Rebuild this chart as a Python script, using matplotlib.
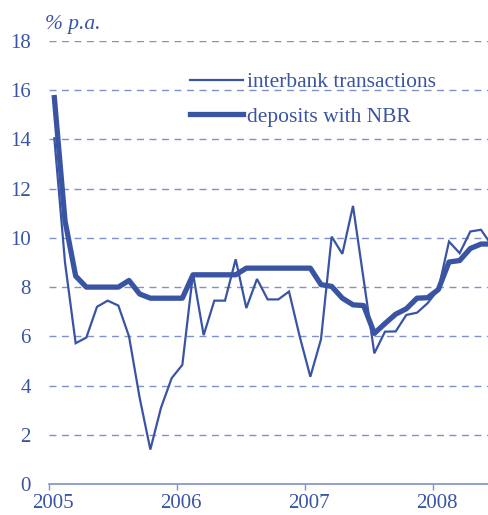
"""Interbank rate vs. NBR deposit rate, 2005-2008."""
import numpy as np
import matplotlib
matplotlib.use("Agg")
import matplotlib.pyplot as plt
from matplotlib.transforms import ScaledTranslation

plt.rcParams["font.family"] = ["Liberation Serif", "DejaVu Serif"]

BLUE = "#3a54a4"
GRID = "#8090c8"

# monthly values, Jan 2005 .. Jun 2008 (% p.a.)
interbank = [14.05, 9.0, 5.72, 5.95, 7.2, 7.45, 7.25, 6.0, 3.5, 1.4, 3.1, 4.3,
             4.84, 8.55, 6.05, 7.45, 7.45, 9.13, 7.15, 8.33, 7.5, 7.5, 7.82, 6.0,
             4.36, 5.88, 10.05, 9.35, 11.3, 8.3, 5.31, 6.19, 6.2, 6.87, 6.96, 7.35,
             7.9, 9.85, 9.38, 10.26, 10.33, 9.7]
deposits = [15.7, 10.7, 8.45, 8.0, 8.0, 8.0, 8.0, 8.27, 7.72, 7.55, 7.55, 7.55,
            7.55, 8.5, 8.5, 8.5, 8.5, 8.5, 8.77, 8.77, 8.77, 8.77, 8.77, 8.77,
            8.77, 8.1, 8.03, 7.55, 7.28, 7.25, 6.12, 6.52, 6.9, 7.12, 7.55, 7.57,
            7.9, 9.02, 9.08, 9.57, 9.75, 9.75]
year_ticks = [2005, 2006, 2007, 2008]
y_ticks = list(range(0, 19, 2))

x = 2005 + (np.arange(len(interbank)) + 0.5) / 12   # mid-month positions

fig = plt.figure(figsize=(4.88, 5.15), dpi=100)
ax = fig.add_axes([49 / 488, 31 / 515, 439 / 488, 443 / 515])

ax.plot(x, interbank, color=BLUE, lw=1.6, label="interbank transactions",
        solid_joinstyle="miter")
ax.plot(x, deposits, color=BLUE, lw=3.8, label="deposits with NBR",
        solid_joinstyle="round")

ax.set_xlim(2005, 2005 + 439 / 128)
ax.set_ylim(0, 18)
for v in y_ticks[1:]:
    ax.axhline(v, color=GRID, lw=1.0, ls=(0, (5, 4)), zorder=0)

for s in ("top", "right", "left"):
    ax.spines[s].set_visible(False)
ax.spines["bottom"].set_color(GRID)
ax.spines["bottom"].set_linewidth(1.2)

ax.set_xticks(year_ticks)
ax.set_xticklabels([str(y) for y in year_ticks])
ax.set_yticks(y_ticks)
ax.tick_params(axis="x", direction="out", length=4.5, width=1.0, color=GRID,
               labelcolor=BLUE, labelsize=15, pad=2.5)
ax.tick_params(axis="y", length=0, labelcolor=BLUE, labelsize=15, pad=13)
shift = ScaledTranslation(4 / 100, 0, fig.dpi_scale_trans)
for lab in ax.get_xticklabels():
    lab.set_transform(lab.get_transform() + shift)

fig.text(45 / 488, 1 - 24 / 515, "% p.a.", color=BLUE, fontsize=15.5,
         style="italic", va="center", ha="left")

ax.legend(loc="upper left", bbox_to_anchor=(190 / 488, 1 - 72 / 515),
          bbox_transform=fig.transFigure, frameon=False, fontsize=15.5,
          labelcolor=BLUE, handlelength=2.47, handletextpad=0.19,
          labelspacing=0.69, borderpad=0, borderaxespad=0)

fig.savefig("out.png", dpi=100)
